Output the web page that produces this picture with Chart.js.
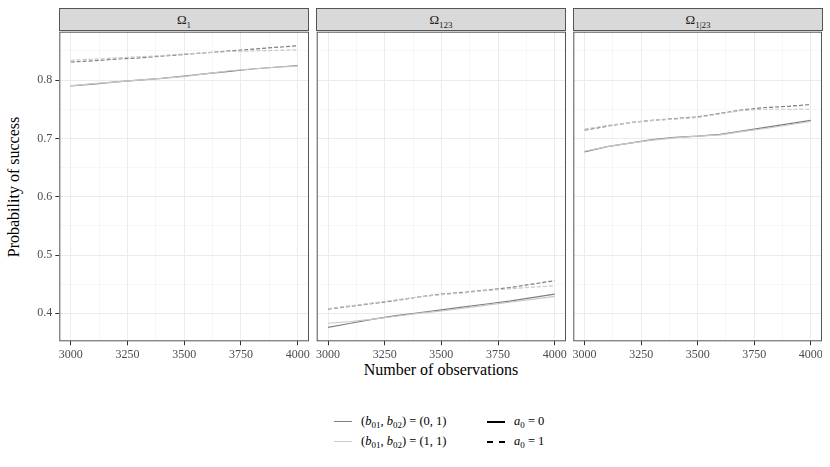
<!DOCTYPE html>
<html>
<head>
<meta charset="utf-8">
<script src="https://cdn.jsdelivr.net/npm/chart.js@4"></script>
<style>
  body { margin: 0; width: 830px; height: 467px; overflow: hidden; background: #fff; position: relative;
         font-family: "Liberation Serif", "DejaVu Serif", serif; }
  canvas { position: absolute; }
  .strip { position: absolute; top: 8px; height: 23px; background: #d9d9d9; border: 1px solid #555;
           box-sizing: border-box; text-align: center; font-size: 13px; line-height: 22px; color: #1a1a1a; }
  .strip sub { font-size: 9px; }
  .ytitle { position: absolute; left: 14px; top: 187px; transform: translate(-50%, -50%) rotate(-90deg);
            font-size: 16px; white-space: nowrap; color: #000; }
  .xtitle { position: absolute; left: 441px; top: 370px; transform: translate(-50%, -50%);
            font-size: 16px; white-space: nowrap; color: #000; }
  .key { position: absolute; width: 18px; height: 0; }
  .lab { position: absolute; font-size: 12.5px; white-space: nowrap; transform: translateY(-50%); color: #000; }
  .lab sub { font-size: 9px; }
</style>
</head>
<body>
<div class="strip" style="left:59px;width:250px">Ω<sub>1</sub></div>
<div class="strip" style="left:316px;width:250px">Ω<sub>123</sub></div>
<div class="strip" style="left:573px;width:250px">Ω<sub>1|23</sub></div>
<div class="ytitle">Probability of success</div>
<div class="xtitle">Number of observations</div>

<div class="key" style="left:334px;top:421px;border-top:1.5px solid #7f7f7f"></div>
<div class="lab" style="left:361px;top:422px">(<i>b</i><sub>01</sub>, <i>b</i><sub>02</sub>) = (0, 1)</div>
<div class="key" style="left:334px;top:441px;border-top:1.5px solid #cccccc"></div>
<div class="lab" style="left:361px;top:442px">(<i>b</i><sub>01</sub>, <i>b</i><sub>02</sub>) = (1, 1)</div>
<div class="key" style="left:487px;top:421px;border-top:2px solid #000"></div>
<div class="lab" style="left:514px;top:422px"><i>a</i><sub>0</sub> = 0</div>
<div class="key" style="left:487px;top:441px;border-top:2px dashed #000"></div>
<div class="lab" style="left:514px;top:442px"><i>a</i><sub>0</sub> = 1</div>

<canvas id="c1" width="326" height="360" style="left:0px;top:20px"></canvas>
<canvas id="c2" width="280" height="360" style="left:301px;top:20px"></canvas>
<canvas id="c3" width="264" height="360" style="left:558px;top:20px"></canvas>

<script>
// x values (number of observations)
const observations = [3000, 3100, 3200, 3300, 3400, 3500, 3600, 3700, 3800, 3900, 4000];
const xTickLabels = [3000, 3250, 3500, 3750, 4000];
const yTickLabels = [0.4, 0.5, 0.6, 0.7, 0.8];

// Omega_1
const omega1_b01_a0 = [0.790, 0.793, 0.797, 0.800, 0.803, 0.807, 0.811, 0.815, 0.819, 0.822, 0.825];
const omega1_b11_a0 = [0.790, 0.794, 0.797, 0.800, 0.803, 0.806, 0.811, 0.816, 0.819, 0.822, 0.824];
const omega1_b01_a1 = [0.831, 0.833, 0.836, 0.838, 0.841, 0.844, 0.847, 0.850, 0.853, 0.856, 0.859];
const omega1_b11_a1 = [0.834, 0.836, 0.838, 0.840, 0.842, 0.845, 0.847, 0.849, 0.850, 0.851, 0.852];

// Omega_123
const omega123_b01_a0 = [0.376, 0.383, 0.390, 0.396, 0.401, 0.406, 0.411, 0.416, 0.421, 0.427, 0.433];
const omega123_b11_a0 = [0.383, 0.386, 0.390, 0.395, 0.400, 0.404, 0.409, 0.414, 0.419, 0.424, 0.429];
const omega123_b01_a1 = [0.407, 0.412, 0.417, 0.422, 0.428, 0.433, 0.436, 0.440, 0.444, 0.450, 0.456];
const omega123_b11_a1 = [0.408, 0.413, 0.418, 0.423, 0.428, 0.432, 0.435, 0.439, 0.442, 0.445, 0.447];

// Omega_1|23
const omega1g23_b01_a0 = [0.677, 0.686, 0.692, 0.698, 0.702, 0.704, 0.707, 0.713, 0.719, 0.725, 0.731];
const omega1g23_b11_a0 = [0.678, 0.686, 0.692, 0.697, 0.701, 0.704, 0.706, 0.712, 0.717, 0.723, 0.729];
const omega1g23_b01_a1 = [0.714, 0.721, 0.727, 0.731, 0.734, 0.737, 0.743, 0.749, 0.753, 0.755, 0.758];
const omega1g23_b11_a1 = [0.716, 0.722, 0.727, 0.731, 0.733, 0.736, 0.742, 0.748, 0.750, 0.750, 0.750];

const DARK = '#7f7f7f', LIGHT = '#c8c8c8';
const FONT = { family: '"Liberation Serif", "DejaVu Serif", serif', size: 12 };

// minor grid positions halfway between the labelled ticks
function withMinor(major) {
    const out = [];
    const step = major[1] - major[0];
    out.push(major[0] - step / 2);
    major.forEach(v => { out.push(v); out.push(v + step / 2); });
    return out;
}
const isMajor = (list, v) => list.some(m => Math.abs(m - v) < 1e-6);

const panelBorder = {
    id: 'panelBorder',
    afterDraw(chart) {
        const a = chart.chartArea, ctx = chart.ctx;
        ctx.save();
        ctx.strokeStyle = '#555';
        ctx.lineWidth = 1;
        ctx.strokeRect(a.left + 0.5, a.top + 0.5, a.right - a.left - 1, a.bottom - a.top - 1);
        ctx.restore();
    }
};

function line(data, color, dashed) {
    return {
        data: observations.map((x, i) => ({ x: x, y: data[i] })),
        borderColor: color,
        borderWidth: 1.2,
        borderDash: dashed ? [4, 2] : [],
        pointRadius: 0,
        tension: 0,
        fill: false
    };
}

function makePanel(id, series, showY, padLeft, padRight, yWidth) {
    new Chart(document.getElementById(id), {
        type: 'line',
        data: {
            datasets: [
                line(series[1], LIGHT, false),
                line(series[0], DARK, false),
                line(series[3], LIGHT, true),
                line(series[2], DARK, true)
            ]
        },
        options: {
            responsive: false,
            animation: false,
            layout: { padding: { left: padLeft, right: padRight, top: 11.7, bottom: 0 } },
            plugins: { legend: { display: false }, tooltip: { enabled: false } },
            scales: {
                x: {
                    type: 'linear', min: 2950, max: 4050,
                    afterBuildTicks: s => { s.ticks = withMinor(xTickLabels).filter(v => v > 2950 && v < 4050).map(v => ({ value: v })); },
                    afterFit: s => { s.height = 38.7; s.paddingLeft = 0; s.paddingRight = 0; },
                    border: { display: false },
                    grid: {
                        color: c => isMajor(xTickLabels, c.tick.value) ? '#ebebeb' : '#f4f4f4',
                        lineWidth: c => isMajor(xTickLabels, c.tick.value) ? 1 : 0.7,
                        tickColor: c => isMajor(xTickLabels, c.tick.value) ? '#333' : 'rgba(0,0,0,0)',
                        tickLength: 4
                    },
                    ticks: {
                        autoSkip: false, maxRotation: 0, padding: 2, color: '#4d4d4d', font: FONT,
                        callback: v => isMajor(xTickLabels, v) ? String(v) : ''
                    }
                },
                y: {
                    min: 0.352, max: 0.883,
                    afterBuildTicks: s => { s.ticks = withMinor(yTickLabels).filter(v => v > 0.352 && v < 0.883).map(v => ({ value: v })); },
                    afterFit: s => { s.width = yWidth; s.paddingTop = 0; s.paddingBottom = 0; },
                    border: { display: false },
                    grid: {
                        color: c => isMajor(yTickLabels, c.tick.value) ? '#ebebeb' : '#f4f4f4',
                        lineWidth: c => isMajor(yTickLabels, c.tick.value) ? 1 : 0.7,
                        tickColor: c => isMajor(yTickLabels, c.tick.value) ? '#333' : 'rgba(0,0,0,0)',
                        drawTicks: showY,
                        tickLength: 4
                    },
                    ticks: {
                        display: showY, autoSkip: false, padding: 3, color: '#4d4d4d', font: FONT,
                        callback: v => isMajor(yTickLabels, v) ? v.toFixed(1) : ''
                    }
                }
            }
        },
        plugins: [panelBorder]
    });
}

makePanel('c1', [omega1_b01_a0, omega1_b11_a0, omega1_b01_a1, omega1_b11_a1], true, 0, 17, 59.3);
makePanel('c2', [omega123_b01_a0, omega123_b11_a0, omega123_b01_a1, omega123_b11_a1], false, 15.7, 15, 0);
makePanel('c3', [omega1g23_b01_a0, omega1g23_b11_a0, omega1g23_b01_a1, omega1g23_b11_a1], false, 15.3, 0, 0);
</script>
</body>
</html>
